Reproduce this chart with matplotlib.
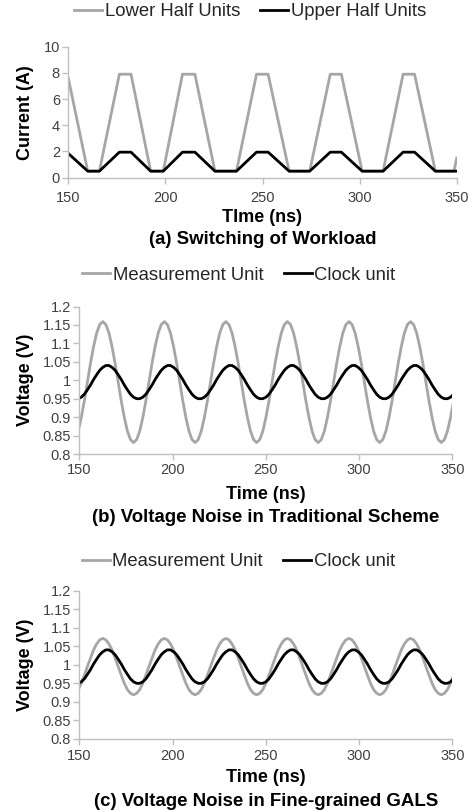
import matplotlib
matplotlib.use('Agg')
import matplotlib.pyplot as plt

plt.rcParams['font.family'] = ['Liberation Sans', 'DejaVu Sans']

# ---------------- (a) switching of workload ----------------
load_t = [150, 160, 166, 176.3, 182.3, 192.4, 198.9, 208.8, 215.2, 225.5, 236.6, 246.9,
          252.9, 263.7, 274.3, 284.9, 290.6, 301.3, 312.1, 322.4, 328.3, 339.0, 348.6, 350]
lower_half = [7.6, 0.5, 0.5, 7.9, 7.9, 0.5, 0.5, 7.9, 7.9, 0.5, 0.5, 7.9,
              7.9, 0.5, 0.5, 7.9, 7.9, 0.5, 0.5, 7.9, 7.9, 0.5, 0.5, 1.5]
upper_half = [1.85, 0.5, 0.5, 1.95, 1.95, 0.5, 0.5, 1.95, 1.95, 0.5, 0.5, 1.95,
              1.95, 0.5, 0.5, 1.95, 1.95, 0.5, 0.5, 1.95, 1.95, 0.5, 0.5, 0.5]

# ---------------- (b)/(c) voltage noise ----------------
noise_t = [149.40, 151.05, 152.70, 154.35, 156.00, 157.65, 159.30, 160.95, 162.60, 164.25,
           165.90, 167.55, 169.20, 170.85, 172.50, 174.15, 175.80, 177.45, 179.10, 180.75,
           182.40, 184.05, 185.70, 187.35, 189.00, 190.65, 192.30, 193.95, 195.60, 197.25,
           198.90, 200.55, 202.20, 203.85, 205.50, 207.15, 208.80, 210.45, 212.10, 213.75,
           215.40, 217.05, 218.70, 220.35, 222.00, 223.65, 225.30, 226.95, 228.60, 230.25,
           231.90, 233.55, 235.20, 236.85, 238.50, 240.15, 241.80, 243.45, 245.10, 246.75,
           248.40, 250.05, 251.70, 253.35, 255.00, 256.65, 258.30, 259.95, 261.60, 263.25,
           264.90, 266.55, 268.20, 269.85, 271.50, 273.15, 274.80, 276.45, 278.10, 279.75,
           281.40, 283.05, 284.70, 286.35, 288.00, 289.65, 291.30, 292.95, 294.60, 296.25,
           297.90, 299.55, 301.20, 302.85, 304.50, 306.15, 307.80, 309.45, 311.10, 312.75,
           314.40, 316.05, 317.70, 319.35, 321.00, 322.65, 324.30, 325.95, 327.60, 329.25,
           330.90, 332.55, 334.20, 335.85, 337.50, 339.15, 340.80, 342.45, 344.10, 345.75,
           347.40, 349.05, 350.70, 352.35]

# measurement unit, traditional scheme
meas_trad = [0.862, 0.899, 0.944, 0.995, 1.046, 1.091, 1.128, 1.151, 1.159, 1.151,
             1.128, 1.091, 1.046, 0.995, 0.944, 0.899, 0.862, 0.839, 0.831, 0.839,
             0.862, 0.899, 0.944, 0.995, 1.046, 1.091, 1.128, 1.151, 1.159, 1.151,
             1.128, 1.091, 1.046, 0.995, 0.944, 0.899, 0.862, 0.839, 0.831, 0.839,
             0.862, 0.899, 0.944, 0.995, 1.046, 1.091, 1.128, 1.151, 1.159, 1.151,
             1.128, 1.091, 1.046, 0.995, 0.944, 0.899, 0.862, 0.839, 0.831, 0.839,
             0.862, 0.899, 0.944, 0.995, 1.046, 1.091, 1.128, 1.151, 1.159, 1.151,
             1.128, 1.091, 1.046, 0.995, 0.944, 0.899, 0.862, 0.839, 0.831, 0.839,
             0.862, 0.899, 0.944, 0.995, 1.046, 1.091, 1.128, 1.151, 1.159, 1.151,
             1.128, 1.091, 1.046, 0.995, 0.944, 0.899, 0.862, 0.839, 0.831, 0.839,
             0.862, 0.899, 0.944, 0.995, 1.046, 1.091, 1.128, 1.151, 1.159, 1.151,
             1.128, 1.091, 1.046, 0.995, 0.944, 0.899, 0.862, 0.839, 0.831, 0.839,
             0.862, 0.899, 0.944, 0.995]

# measurement unit, fine-grained GALS
meas_gals = [0.933, 0.950, 0.972, 0.995, 1.018, 1.040, 1.056, 1.067, 1.071, 1.067,
             1.056, 1.040, 1.018, 0.995, 0.972, 0.950, 0.933, 0.923, 0.919, 0.923,
             0.933, 0.950, 0.972, 0.995, 1.018, 1.040, 1.056, 1.067, 1.071, 1.067,
             1.056, 1.040, 1.018, 0.995, 0.972, 0.950, 0.933, 0.923, 0.919, 0.923,
             0.933, 0.950, 0.972, 0.995, 1.018, 1.040, 1.056, 1.067, 1.071, 1.067,
             1.056, 1.040, 1.018, 0.995, 0.972, 0.950, 0.933, 0.923, 0.919, 0.923,
             0.933, 0.950, 0.972, 0.995, 1.018, 1.040, 1.056, 1.067, 1.071, 1.067,
             1.056, 1.040, 1.018, 0.995, 0.972, 0.950, 0.933, 0.923, 0.919, 0.923,
             0.933, 0.950, 0.972, 0.995, 1.018, 1.040, 1.056, 1.067, 1.071, 1.067,
             1.056, 1.040, 1.018, 0.995, 0.972, 0.950, 0.933, 0.923, 0.919, 0.923,
             0.933, 0.950, 0.972, 0.995, 1.018, 1.040, 1.056, 1.067, 1.071, 1.067,
             1.056, 1.040, 1.018, 0.995, 0.972, 0.950, 0.933, 0.923, 0.919, 0.923,
             0.933, 0.950, 0.972, 0.995]

# clock unit (same in both schemes)
clock_unit = [0.950, 0.954, 0.962, 0.974, 0.987, 1.002, 1.015, 1.027, 1.035, 1.040,
              1.040, 1.035, 1.027, 1.015, 1.002, 0.987, 0.974, 0.962, 0.954, 0.950,
              0.950, 0.954, 0.962, 0.974, 0.987, 1.002, 1.015, 1.027, 1.035, 1.040,
              1.040, 1.035, 1.027, 1.015, 1.002, 0.987, 0.974, 0.962, 0.954, 0.950,
              0.950, 0.954, 0.962, 0.974, 0.987, 1.002, 1.015, 1.027, 1.035, 1.040,
              1.040, 1.035, 1.027, 1.015, 1.002, 0.987, 0.974, 0.962, 0.954, 0.950,
              0.950, 0.954, 0.962, 0.974, 0.987, 1.002, 1.015, 1.027, 1.035, 1.040,
              1.040, 1.035, 1.027, 1.015, 1.002, 0.987, 0.974, 0.962, 0.954, 0.950,
              0.950, 0.954, 0.962, 0.974, 0.987, 1.002, 1.015, 1.027, 1.035, 1.040,
              1.040, 1.035, 1.027, 1.015, 1.002, 0.987, 0.974, 0.962, 0.954, 0.950,
              0.950, 0.954, 0.962, 0.974, 0.987, 1.002, 1.015, 1.027, 1.035, 1.040,
              1.040, 1.035, 1.027, 1.015, 1.002, 0.987, 0.974, 0.962, 0.954, 0.950,
              0.950, 0.954, 0.962, 0.974]

x_ticks = [150, 200, 250, 300, 350]
cur_ticks = [0, 2, 4, 6, 8, 10]
volt_ticks = [0.8, 0.85, 0.9, 0.95, 1.0, 1.05, 1.1, 1.15, 1.2]
volt_labels = ['0.8', '0.85', '0.9', '0.95', '1', '1.05', '1.1', '1.15', '1.2']

GREY = '#A6A6A6'
AXIS = '#BFBFBF'
TXT = '#404040'

W, H = 473, 811
fig = plt.figure(figsize=(W / 100, H / 100), dpi=100)


def add_axes_px(l, t, r, b):
    # axes box given in pixels from the top-left corner
    return fig.add_axes([l / W, 1 - b / H, (r - l) / W, (b - t) / H])


def style(ax, xpad):
    for s in ['top', 'right']:
        ax.spines[s].set_visible(False)
    for s in ['left', 'bottom']:
        ax.spines[s].set_color(AXIS)
        ax.spines[s].set_linewidth(1)
    ax.tick_params(direction='out', length=4, width=1, color=AXIS,
                   labelcolor=TXT, labelsize=10.5)
    ax.tick_params(axis='y', pad=2)
    ax.tick_params(axis='x', pad=xpad)
    ax.set_xlim(150, 350)
    ax.set_xticks(x_ticks)


def ftext(x, y, s, **kw):
    fig.text(x / W, 1 - y / H, s, ha='center', va='center', **kw)


def panel(box, t, grey, black, labels, ylabel, yticks, ylabels, ylim,
          leg_xy, xlab, xlab_y, sub, sub_y, xpad):
    ax = add_axes_px(*box)
    g, = ax.plot(t, grey, color=GREY, lw=2.0)
    k, = ax.plot(t, black, color='black', lw=2.0)
    style(ax, xpad)
    ax.set_ylim(*ylim)
    ax.set_yticks(yticks)
    ax.set_yticklabels(ylabels)
    fig.legend([g, k], labels, loc='center',
               bbox_to_anchor=(leg_xy[0] / W, 1 - leg_xy[1] / H),
               ncol=2, frameon=False, fontsize=13.3, handlelength=1.5,
               handletextpad=0.15, columnspacing=1.1, labelcolor='#262626')
    cx = (box[0] + box[2]) / 2
    ftext(25, (box[1] + box[3]) / 2, ylabel, rotation=90, fontsize=13, fontweight='bold')
    ftext(cx, xlab_y, xlab, fontsize=13, fontweight='bold')
    ftext(cx, sub_y, sub, fontsize=13.4, fontweight='bold')
    return ax


panel((68.3, 46.7, 456.7, 177.7), load_t, lower_half, upper_half,
      ['Lower Half Units', 'Upper Half Units'], 'Current (A)',
      cur_ticks, [str(v) for v in cur_ticks], (0, 10),
      (250, 12), 'TIme (ns)', 218, '(a) Switching of Workload', 240, 5.5)

panel((79.3, 306.5, 452.3, 454), noise_t, meas_trad, clock_unit,
      ['Measurement Unit', 'Clock unit'], 'Voltage (V)',
      volt_ticks, volt_labels, (0.8, 1.2),
      (239, 275), 'Time (ns)', 494, '(b) Voltage Noise in Traditional Scheme', 517, 2.5)

panel((79.3, 590.5, 452.3, 739), noise_t, meas_gals, clock_unit,
      ['Measurement Unit', 'Clock unit'], 'Voltage (V)',
      volt_ticks, volt_labels, (0.8, 1.2),
      (238.5, 562), 'Time (ns)', 777, '(c) Voltage Noise in Fine-grained GALS', 802, 3.5)

fig.savefig('out.png', dpi=100)
